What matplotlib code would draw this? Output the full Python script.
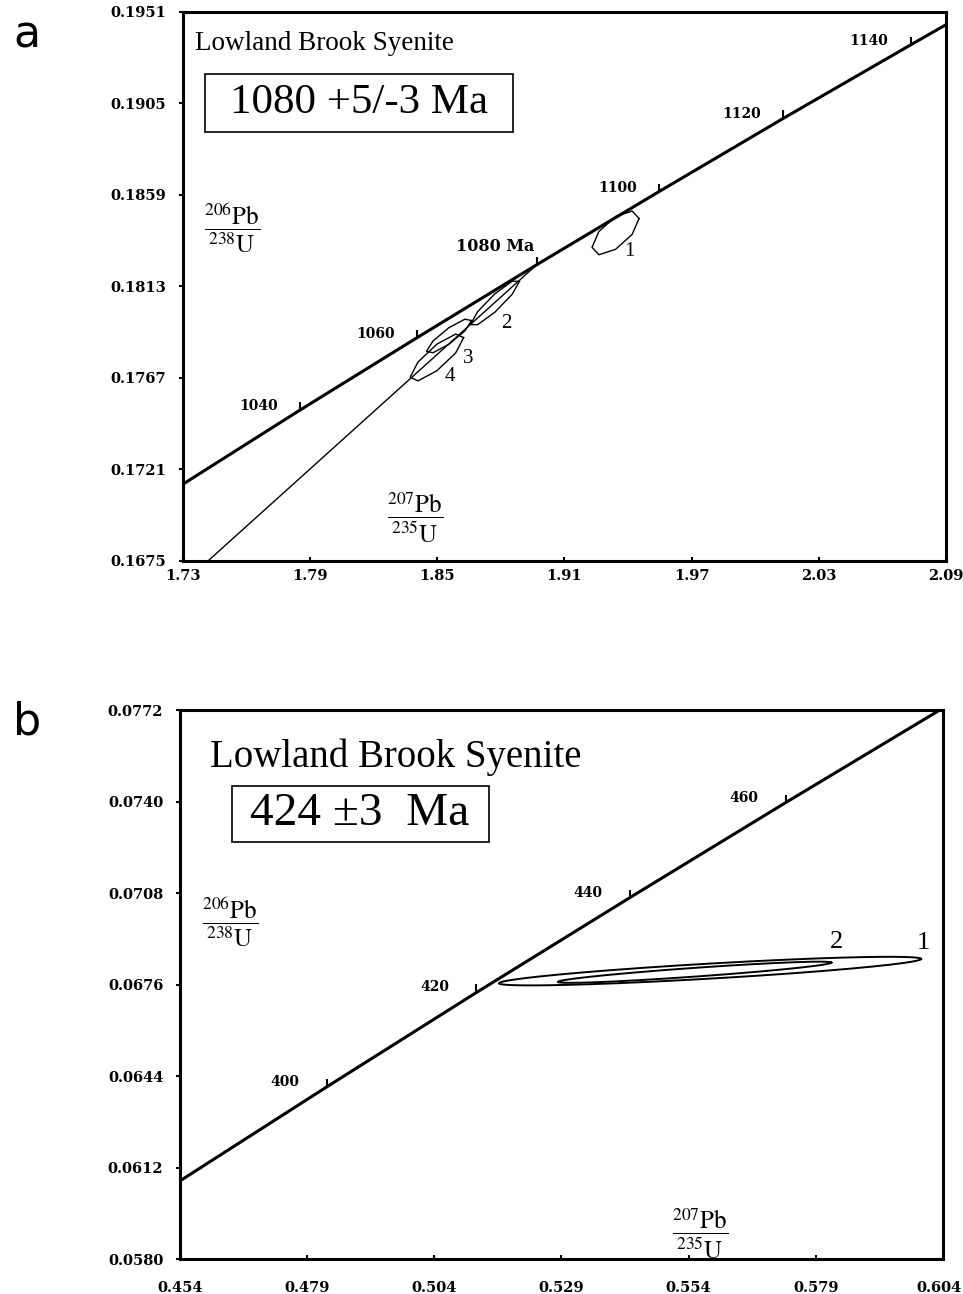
import numpy as np
import matplotlib
matplotlib.use("Agg")
import matplotlib.pyplot as plt
import matplotlib.transforms as mtransforms
from matplotlib.patches import Rectangle

plt.rcParams['mathtext.fontset'] = 'stix'
plt.rcParams['font.family'] = ['Liberation Serif', 'DejaVu Serif']

# ---- panel a data ----
conc_a_age = [1010, 1040, 1060, 1080, 1100, 1120, 1140, 1150]
conc_a_x = [1.7039, 1.7850, 1.8404, 1.8969, 1.9545, 2.0133, 2.0733, 2.1037]
conc_a_y = [0.16960, 0.17507, 0.17872, 0.18239, 0.18606, 0.18975, 0.19344, 0.19529]
label_ages_a = [1040, 1060, 1080, 1100, 1120, 1140]

disc_a_x = [1.7418, 1.8969]
disc_a_y = [0.1675, 0.18239]

# error ellipses: centre x, centre y, half-range x, half-range y, rho
ell_a_names = ["1", "2", "3", "4"]
ell_a_cx = [1.9341, 1.8772, 1.8555, 1.8498]
ell_a_cy = [0.18399, 0.18047, 0.17881, 0.17773]
ell_a_ax = [0.0111, 0.01157, 0.01063, 0.01261]
ell_a_ay = [0.00110, 0.00118, 0.00088, 0.00120]
ell_a_rho = [0.66, 0.92, 0.88, 0.83]
ell_a_lx = [1.9406, 1.8827, 1.8646, 1.8560]
ell_a_ly = [0.18305, 0.17945, 0.17769, 0.17676]

xticks_a = [1.73, 1.79, 1.85, 1.91, 1.97, 2.03, 2.09]
yticks_a = [0.1675, 0.1721, 0.1767, 0.1813, 0.1859, 0.1905, 0.1951]

# ---- panel b data ----
conc_b_age = [380, 400, 420, 440, 460, 480]
conc_b_x = [0.45388, 0.48281, 0.51228, 0.54243, 0.57310, 0.60433]
conc_b_y = [0.060720, 0.064016, 0.067322, 0.070638, 0.073965, 0.077302]
label_ages_b = [400, 420, 440, 460]

ell_b_names = ["1", "2"]
ell_b_cx = [0.5582, 0.55517]
ell_b_cy = [0.06807, 0.06803]
ell_b_ax = [0.0415, 0.0269]
ell_b_ay = [0.00050, 0.00037]
ell_b_rho = [0.85, 0.91]
ell_b_lx = [0.6001, 0.5831]
ell_b_ly = [0.06905, 0.06910]

xticks_b = [0.454, 0.479, 0.504, 0.529, 0.554, 0.579, 0.604]
yticks_b = [0.0580, 0.0612, 0.0644, 0.0676, 0.0708, 0.0740, 0.0772]


def ellipse_pts(cx, cy, ax_, ay_, rho, n):
    t = np.linspace(0, 2 * np.pi, n)
    x = cx + ax_ * np.cos(t)
    y = cy + ay_ * (rho * np.cos(t) + np.sqrt(1 - rho ** 2) * np.sin(t))
    return x, y


def fraction_label(ax, x, y, top, bottom):
    ax.text(x, y, r'$\dfrac{^{%s}\mathrm{Pb}}{^{%s}\mathrm{U}}$' % (top, bottom),
            transform=ax.transAxes, ha='center', va='center', fontsize=18)


def style_axes(ax, xt, yt, xfmt, yfmt, xpad):
    ax.set_xticks(xt)
    ax.set_yticks(yt)
    ax.set_xticklabels([xfmt % v for v in xt])
    ax.set_yticklabels([yfmt % v for v in yt])
    ax.set_xlim(xt[0], xt[-1])
    ax.set_ylim(yt[0], yt[-1])
    for lab in ax.get_xticklabels() + ax.get_yticklabels():
        lab.set_fontfamily('DejaVu Serif')
        lab.set_fontweight('bold')
        lab.set_fontsize(10.5)
    ax.tick_params(axis='x', direction='in', length=3, width=1.5, pad=xpad)
    ax.tick_params(axis='y', direction='out', length=3, width=1.5, pad=9)
    for s in ax.spines.values():
        s.set_linewidth(2.2)


fig = plt.figure(figsize=(9.63, 12.94), dpi=100)

# ================= panel a =================
ax1 = fig.add_axes([0.190, 0.5665, 0.7923, 0.4243])
ax1.plot(conc_a_x, conc_a_y, color='black', lw=2.2)
ax1.plot(disc_a_x, disc_a_y, color='black', lw=1.0)
for age, x, y in zip(conc_a_age, conc_a_x, conc_a_y):
    if age in label_ages_a:
        ax1.plot(x, y, marker=2, color='black', markersize=6, mew=1.5)
        if age == 1080:
            ax1.annotate("1080 Ma", (x, y), xytext=(-2, 18), textcoords='offset pixels',
                         ha='right', va='center', fontsize=11.5, fontweight='bold',
                         family='DejaVu Serif')
        else:
            ax1.annotate(str(age), (x, y), xytext=(-22, 4), textcoords='offset pixels',
                         ha='right', va='center', fontsize=10, fontweight='bold',
                         family='DejaVu Serif')

for i in range(len(ell_a_names)):
    ex, ey = ellipse_pts(ell_a_cx[i], ell_a_cy[i], ell_a_ax[i], ell_a_ay[i], ell_a_rho[i], 9)
    ax1.plot(ex, ey, color='black', lw=1.0)
    ax1.text(ell_a_lx[i], ell_a_ly[i], ell_a_names[i], ha='center', va='center', fontsize=15)

style_axes(ax1, xticks_a, yticks_a, '%.2f', '%.4f', 6)

ax1.text(0.0157, 0.943, "Lowland Brook Syenite", transform=ax1.transAxes,
         ha='left', va='center', fontsize=19.5)
ax1.add_patch(Rectangle((0.0289, 0.7818), 0.4042, 0.1055, transform=ax1.transAxes,
                        fill=False, lw=1.2, edgecolor='black'))
ax1.text(0.2307, 0.8345, "1080 +5/-3 Ma", transform=ax1.transAxes,
         ha='center', va='center', fontsize=31)
fraction_label(ax1, 0.064, 0.607, '206', '238')
fraction_label(ax1, 0.3045, 0.078, '207', '235')

fig.text(0.028, 0.973, "a", fontsize=32, family='DejaVu Sans', ha='center', va='center')

# ================= panel b =================
ax2 = fig.add_axes([0.1869, 0.0270, 0.7923, 0.4243])
ax2.plot(conc_b_x, conc_b_y, color='black', lw=2.2)
for age, x, y in zip(conc_b_age, conc_b_x, conc_b_y):
    if age in label_ages_b:
        ax2.plot(x, y, marker=2, color='black', markersize=6, mew=1.5)
        ax2.annotate(str(age), (x, y), xytext=(-27, 5), textcoords='offset pixels',
                     ha='right', va='center', fontsize=10, fontweight='bold',
                     family='DejaVu Serif')

for i in range(len(ell_b_names)):
    ex, ey = ellipse_pts(ell_b_cx[i], ell_b_cy[i], ell_b_ax[i], ell_b_ay[i], ell_b_rho[i], 300)
    ax2.plot(ex, ey, color='black', lw=1.4)
    ax2.text(ell_b_lx[i], ell_b_ly[i], ell_b_names[i], ha='center', va='center', fontsize=19)

style_axes(ax2, xticks_b, yticks_b, '%.3f', '%.4f', 16)
# keep the last x label inside the figure edge
last = ax2.get_xticklabels()[-1]
last.set_transform(last.get_transform() + mtransforms.ScaledTranslation(-4 / 100, 0, fig.dpi_scale_trans))

ax2.text(0.0393, 0.914, "Lowland Brook Syenite", transform=ax2.transAxes,
         ha='left', va='center', fontsize=28)
ax2.add_patch(Rectangle((0.0682, 0.7596), 0.3368, 0.102, transform=ax2.transAxes,
                        fill=False, lw=1.2, edgecolor='black'))
ax2.text(0.2359, 0.8106, "424 \u00b13  Ma", transform=ax2.transAxes,
         ha='center', va='center', fontsize=34)
fraction_label(ax2, 0.0655, 0.614, '206', '238')
fraction_label(ax2, 0.6815, 0.045, '207', '235')

fig.text(0.028, 0.442, "b", fontsize=32, family='DejaVu Sans', ha='center', va='center')

fig.savefig("out.png", dpi=100)
